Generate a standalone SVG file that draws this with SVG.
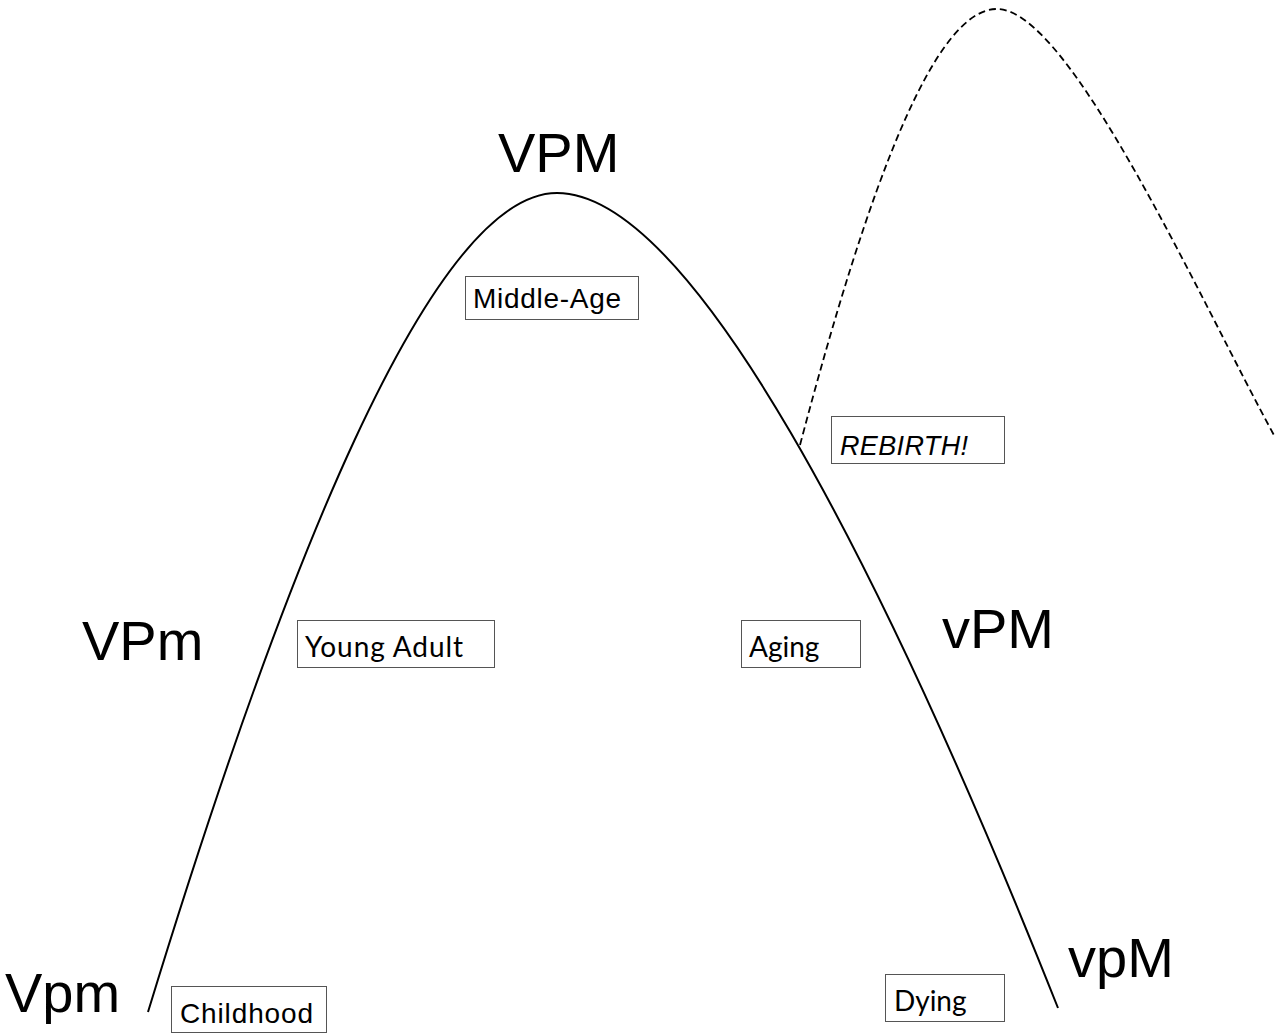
<svg xmlns="http://www.w3.org/2000/svg" width="1279" height="1034" viewBox="0 0 1279 1034">
<style>
.big{font-family:"Liberation Sans",Arial,sans-serif;font-size:56px;fill:#000}
.box{fill:#fff;stroke:#555;stroke-width:1}
.a{font-family:"Liberation Sans",Arial,sans-serif;font-size:28px;fill:#000}
.c{font-family:Lato,"Open Sans",sans-serif;font-size:28px;fill:#000}
.it{font-family:"Liberation Sans",Arial,sans-serif;font-size:27px;font-style:italic;fill:#000}
.solid{fill:none;stroke:#000;stroke-width:2}
.dash{fill:none;stroke:#000;stroke-width:1.8;stroke-dasharray:7 4}
</style>
<rect width="1279" height="1034" fill="#fff"/>
<g id="connectors">
<path class="solid" d="M148,1012 C280,580 430,193 557,193 C690,193 880,560 1058,1008"/>
<path class="dash" d="M800,445 C870,180 935,9 997,9 C1070,9 1200,300 1275,437"/>
</g>
<g id="labels">
<text class="big" x="498" y="172">VPM</text>
<text class="big" x="82" y="660">VPm</text>
<text class="big" x="942" y="648">vPM</text>
<text class="big" x="5" y="1012">Vpm</text>
<text class="big" x="1068" y="977">vpM</text>
</g>
<g id="middle-age"><rect class="box" x="465.5" y="276.5" width="173" height="43"/><text class="a" x="473" y="308" textLength="148">Middle-Age</text></g>
<g id="rebirth"><rect class="box" x="831.5" y="416.5" width="173" height="47"/><text class="it" x="840" y="455" textLength="128">REBIRTH!</text></g>
<g id="young-adult"><rect class="box" x="297.5" y="620.5" width="197" height="47"/><text class="c" x="305" y="657" textLength="158">Young Adult</text></g>
<g id="aging"><rect class="box" x="741.5" y="620.5" width="119" height="47"/><text class="c" x="749" y="657">Aging</text></g>
<g id="childhood"><rect class="box" x="171.5" y="986.5" width="155" height="46"/><text class="a" x="180" y="1023" textLength="133">Childhood</text></g>
<g id="dying"><rect class="box" x="885.5" y="974.5" width="119" height="47"/><text class="c" x="894" y="1011">Dying</text></g>
</svg>
